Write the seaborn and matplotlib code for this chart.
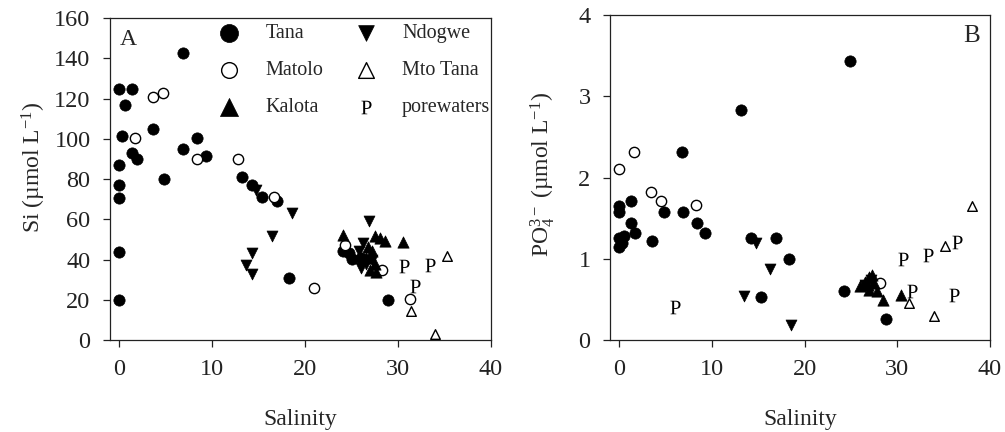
import matplotlib
matplotlib.use("Agg")
import matplotlib.pyplot as plt
import seaborn as sns
import numpy as np

# ---------------- data (panel A: Si vs salinity) ----------------
tana_a_sal = [0.0, 1.4, 0.6, 6.8, 3.6, 0.3, 8.4, 6.9, 1.4, 1.9, 9.3, 0.0, 4.8, 0.0, 0.0,
              13.2, 14.3, 15.4, 17.0, 0.0, 0.0, 18.3, 28.9, 24.1, 24.7, 25.0, 26.0]
tana_a_si = [125, 125, 117, 142.5, 105, 101.5, 100.5, 95, 93, 90, 91.5, 87, 80, 77, 70.5,
             81, 77, 71, 69, 43.5, 20, 31, 20, 44, 43, 40.5, 41]
matolo_a_sal = [3.6, 4.65, 1.65, 8.4, 12.8, 16.6, 20.9, 24.3, 28.3, 31.3]
matolo_a_si = [121, 123, 100.5, 90, 90, 71, 26, 47, 35, 20.5]
kalota_a_sal = [24.1, 27.5, 28.1, 28.6, 30.5, 26.8, 27.2, 26.5, 27.5, 27.0, 27.6]
kalota_a_si = [52, 51.5, 50.5, 49, 48.5, 46, 44, 41, 38, 35, 34]
ndogwe_a_sal = [14.7, 18.6, 16.4, 14.3, 13.6, 14.3, 26.9, 26.2, 25.8, 26.6, 26.0, 27.2]
ndogwe_a_si = [74.5, 63, 51.5, 43, 37.5, 33, 59, 48, 44, 38, 36, 40]
mtotana_a_sal = [35.3, 31.4, 34.0]
mtotana_a_si = [41.7, 14.4, 3]
pore_a_sal = [30.6, 33.4, 31.8]
pore_a_si = [36.8, 37.3, 26.8]

# ---------------- data (panel B: PO4 vs salinity) ----------------
tana_b_sal = [24.9, 13.1, 6.8, 0.0, 0.0, 1.3, 1.3, 1.7, 4.8, 6.85, 3.5, 8.35, 9.2, 0.0, 0.0,
              0.5, 0.3, 14.2, 16.9, 18.3, 15.3, 24.2, 28.8]
tana_b_po4 = [3.44, 2.83, 2.31, 1.65, 1.58, 1.71, 1.44, 1.32, 1.58, 1.58, 1.22, 1.44, 1.32,
              1.26, 1.15, 1.28, 1.20, 1.26, 1.26, 1.0, 0.53, 0.6, 0.26]
matolo_b_sal = [1.55, 0.0, 3.45, 4.5, 8.3, 28.1]
matolo_b_po4 = [2.32, 2.10, 1.82, 1.71, 1.66, 0.70]
kalota_b_sal = [26.0, 26.5, 27.0, 27.3, 27.5, 27.0, 27.8, 26.8, 28.5, 30.4]
kalota_b_po4 = [0.66, 0.72, 0.78, 0.80, 0.70, 0.62, 0.60, 0.68, 0.49, 0.55]
ndogwe_b_sal = [14.7, 16.3, 13.5, 18.5, 26.5, 27.2]
ndogwe_b_po4 = [1.20, 0.87, 0.54, 0.18, 0.68, 0.74]
mtotana_b_sal = [38.1, 35.2, 31.3, 34.0]
mtotana_b_po4 = [1.65, 1.16, 0.45, 0.30]
pore_b_sal = [6.0, 30.6, 33.3, 36.4, 31.6, 36.1]
pore_b_po4 = [0.41, 1.00, 1.05, 1.21, 0.60, 0.56]

series_labels = ["Tana", "Matolo", "Kalota", "Ndogwe", "Mto Tana", "porewaters"]
x_ticks = [0, 10, 20, 30, 40]
si_ticks = [0, 20, 40, 60, 80, 100, 120, 140, 160]
po4_ticks = [0, 1, 2, 3, 4]

# ---------------- style ----------------
sns.set_style("ticks")
plt.rcParams["font.family"] = ["Liberation Serif", "DejaVu Serif"]
plt.rcParams["mathtext.fontset"] = "custom"
plt.rcParams["mathtext.rm"] = "Liberation Serif"
plt.rcParams["mathtext.it"] = "Liberation Serif:italic"
plt.rcParams["mathtext.default"] = "regular"

P_MARK = r"$\mathrm{P}$"

fig = plt.figure(figsize=(10.05, 4.32), dpi=100)
axA = fig.add_axes([0.1095, 0.213, 0.379, 0.745])
axB = fig.add_axes([0.607, 0.213, 0.378, 0.752])


def draw(ax, data, with_labels):
    styles = [
        dict(marker="o", color="black", edgecolor="black", linewidth=0.5, s=66),
        dict(marker="o", color="white", edgecolor="black", linewidth=1.0, s=55),
        dict(marker="^", color="black", edgecolor="black", linewidth=0.5, s=66),
        dict(marker="v", color="black", edgecolor="black", linewidth=0.5, s=62),
        dict(marker="^", color="white", edgecolor="black", linewidth=1.0, s=48),
        dict(marker=P_MARK, color="black", linewidth=0, s=95),
    ]
    for (xs, ys), st, lab in zip(data, styles, series_labels):
        kw = dict(st)
        if with_labels:
            kw["label"] = lab
        sns.scatterplot(x=xs, y=ys, ax=ax, zorder=3, clip_on=False, **kw)


draw(axA, [(tana_a_sal, tana_a_si), (matolo_a_sal, matolo_a_si), (kalota_a_sal, kalota_a_si),
           (ndogwe_a_sal, ndogwe_a_si), (mtotana_a_sal, mtotana_a_si), (pore_a_sal, pore_a_si)],
     True)
draw(axB, [(tana_b_sal, tana_b_po4), (matolo_b_sal, matolo_b_po4), (kalota_b_sal, kalota_b_po4),
           (ndogwe_b_sal, ndogwe_b_po4), (mtotana_b_sal, mtotana_b_po4), (pore_b_sal, pore_b_po4)],
     False)

for ax in (axA, axB):
    ax.set_xlim(-1, 40)
    ax.set_xticks(x_ticks)
    for sp in ax.spines.values():
        sp.set_visible(True)
        sp.set_linewidth(0.9)
        sp.set_color("#222222")
    ax.tick_params(direction="out", length=5, width=0.9, labelsize=17.5, colors="#222222")
    ax.tick_params(axis="x", pad=9)
    ax.tick_params(axis="y", pad=9)
    ax.set_xlabel("Salinity", fontsize=17)

axA.set_ylim(0, 160)
axA.set_yticks(si_ticks)
axA.set_ylabel("Si (µmol L$^{-1}$)", fontsize=17)
axB.set_ylim(0, 4)
axB.set_yticks(po4_ticks)
axB.set_ylabel("PO$_4^{3-}$ (µmol L$^{-1}$)", fontsize=17)

axA.yaxis.set_label_coords(-0.163, 0.537)
axB.yaxis.set_label_coords(-0.140, 0.508)
axA.xaxis.set_label_coords(0.5, -0.215)
axB.xaxis.set_label_coords(0.5, -0.213)

axA.text(0.047, 0.935, "A", transform=axA.transAxes, ha="center", va="center", fontsize=17)
axB.text(0.951, 0.937, "B", transform=axB.transAxes, ha="center", va="center", fontsize=18)

leg_old = axB.get_legend()
if leg_old is not None:
    leg_old.remove()

handles, labels = axA.get_legend_handles_labels()
order = [labels.index(l) for l in series_labels]
handles = [handles[i] for i in order]
labels = [labels[i] for i in order]
leg = axA.legend(handles, labels, ncol=2, loc="upper left", bbox_to_anchor=(0.287, 0.982),
                 frameon=False, fontsize=14.5, borderpad=0, borderaxespad=0,
                 handlelength=1.0, handletextpad=1.3, columnspacing=1.6, labelspacing=0.9,
                 scatterpoints=1)
leg_sizes = [169, 128, 169, 128, 128, 95]
for h, s in zip(leg.legend_handles, leg_sizes):
    h.set_sizes([s])

fig.savefig("out.png", dpi=100)
